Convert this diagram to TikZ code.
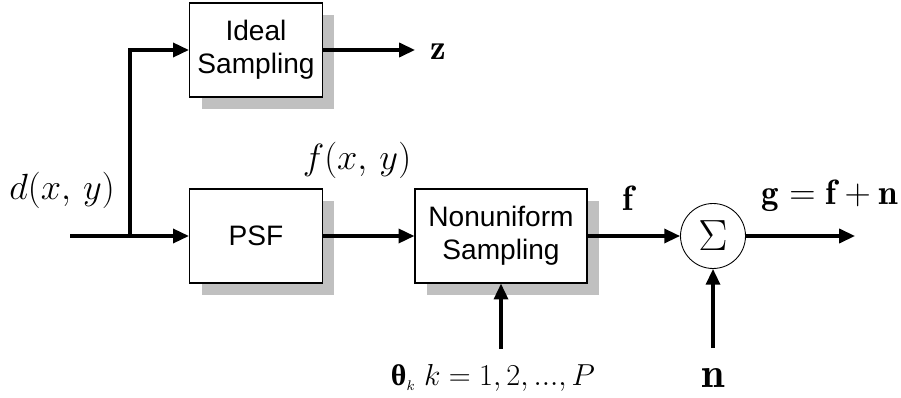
\documentclass[tikz,border=0pt]{standalone}
\usepackage{amsmath,amssymb}
\usepackage{fontspec}
\setsansfont{Liberation Sans}
\newfontfamily\grkfont{Liberation Serif}
\usepackage{tikz}
\usetikzlibrary{arrows.meta, positioning, calc, shadows}
\definecolor{shadowgray}{HTML}{C0C0C0}
\tikzset{
  blockbox/.style={draw=black, line width=0.7pt, fill=white, minimum height=1.88cm,
                   align=center, font=\fontsize{16}{19}\selectfont\sffamily,
                   drop shadow={shadow xshift=0.24cm, shadow yshift=-0.24cm, fill=shadowgray, opacity=1}},
  sigline/.style={-{Triangle[length=9pt, width=8pt]}, line width=1.8pt},
  mathlbl/.style={font=\fontsize{20}{22}\selectfont, inner sep=0pt},
}

\begin{document}
\begin{tikzpicture}[x=0.02cm, y=-0.02cm]
  \useasboundingbox (0,0) rectangle (901,398);

  \node[blockbox, minimum width=2.66cm] (ideal) at (256,50) {Ideal\\Sampling};
  \node[blockbox, minimum width=2.66cm] (psf) at (256,236) {PSF};
  \node[blockbox, minimum width=3.44cm] (nonuni) at (501,236) {Nonuniform\\Sampling};
  \node[draw, circle, line width=0.5pt, minimum size=1.3cm, inner sep=0pt,
        font=\fontsize{24}{26}\selectfont] (sum) at (713,236) {$\Sigma$};

  \coordinate (in) at (70,236);
  \coordinate (split) at (130,236);
  \coordinate (zend) at (415,50);
  \coordinate (gend) at (855,236);
  \coordinate (thetain) at (501,349);
  \coordinate (nin) at (713,348);

  % labels
  \node[mathlbl] (dlbl) at (62,190) {$d(x,\,y)$};
  \node[mathlbl] (flbl) at (357,160) {$f(x,\,y)$};
  \node[mathlbl, anchor=west] (zlbl) at (430,52) {$\mathbf{z}$};
  \node[mathlbl] (fvec) at (628,198) {$\mathbf{f}$};
  \node[mathlbl] (glbl) at (830,196) {$\mathbf{g}=\mathbf{f}+\mathbf{n}$};
  \node[mathlbl, font=\fontsize{17}{20}\selectfont] (theta) at (493,378)
    {{\grkfont\bfseries θ}$_{\scriptscriptstyle k}\; k=1,2,...,P$};
  \node[mathlbl, font=\fontsize{24}{26}\selectfont] (nlbl) at (713,378) {$\mathbf{n}$};

  % signal paths
  \draw[sigline] (in) -- (psf);
  \draw[sigline] (split) |- (ideal);
  \draw[sigline] (ideal) -- (zend);
  \draw[sigline] (psf) -- (nonuni);
  \draw[sigline] (nonuni) -- (sum);
  \draw[sigline] (sum) -- (gend);
  \draw[sigline] (thetain) -- (nonuni.south);
  \draw[sigline] (nin) -- (sum);
\end{tikzpicture}
\end{document}
